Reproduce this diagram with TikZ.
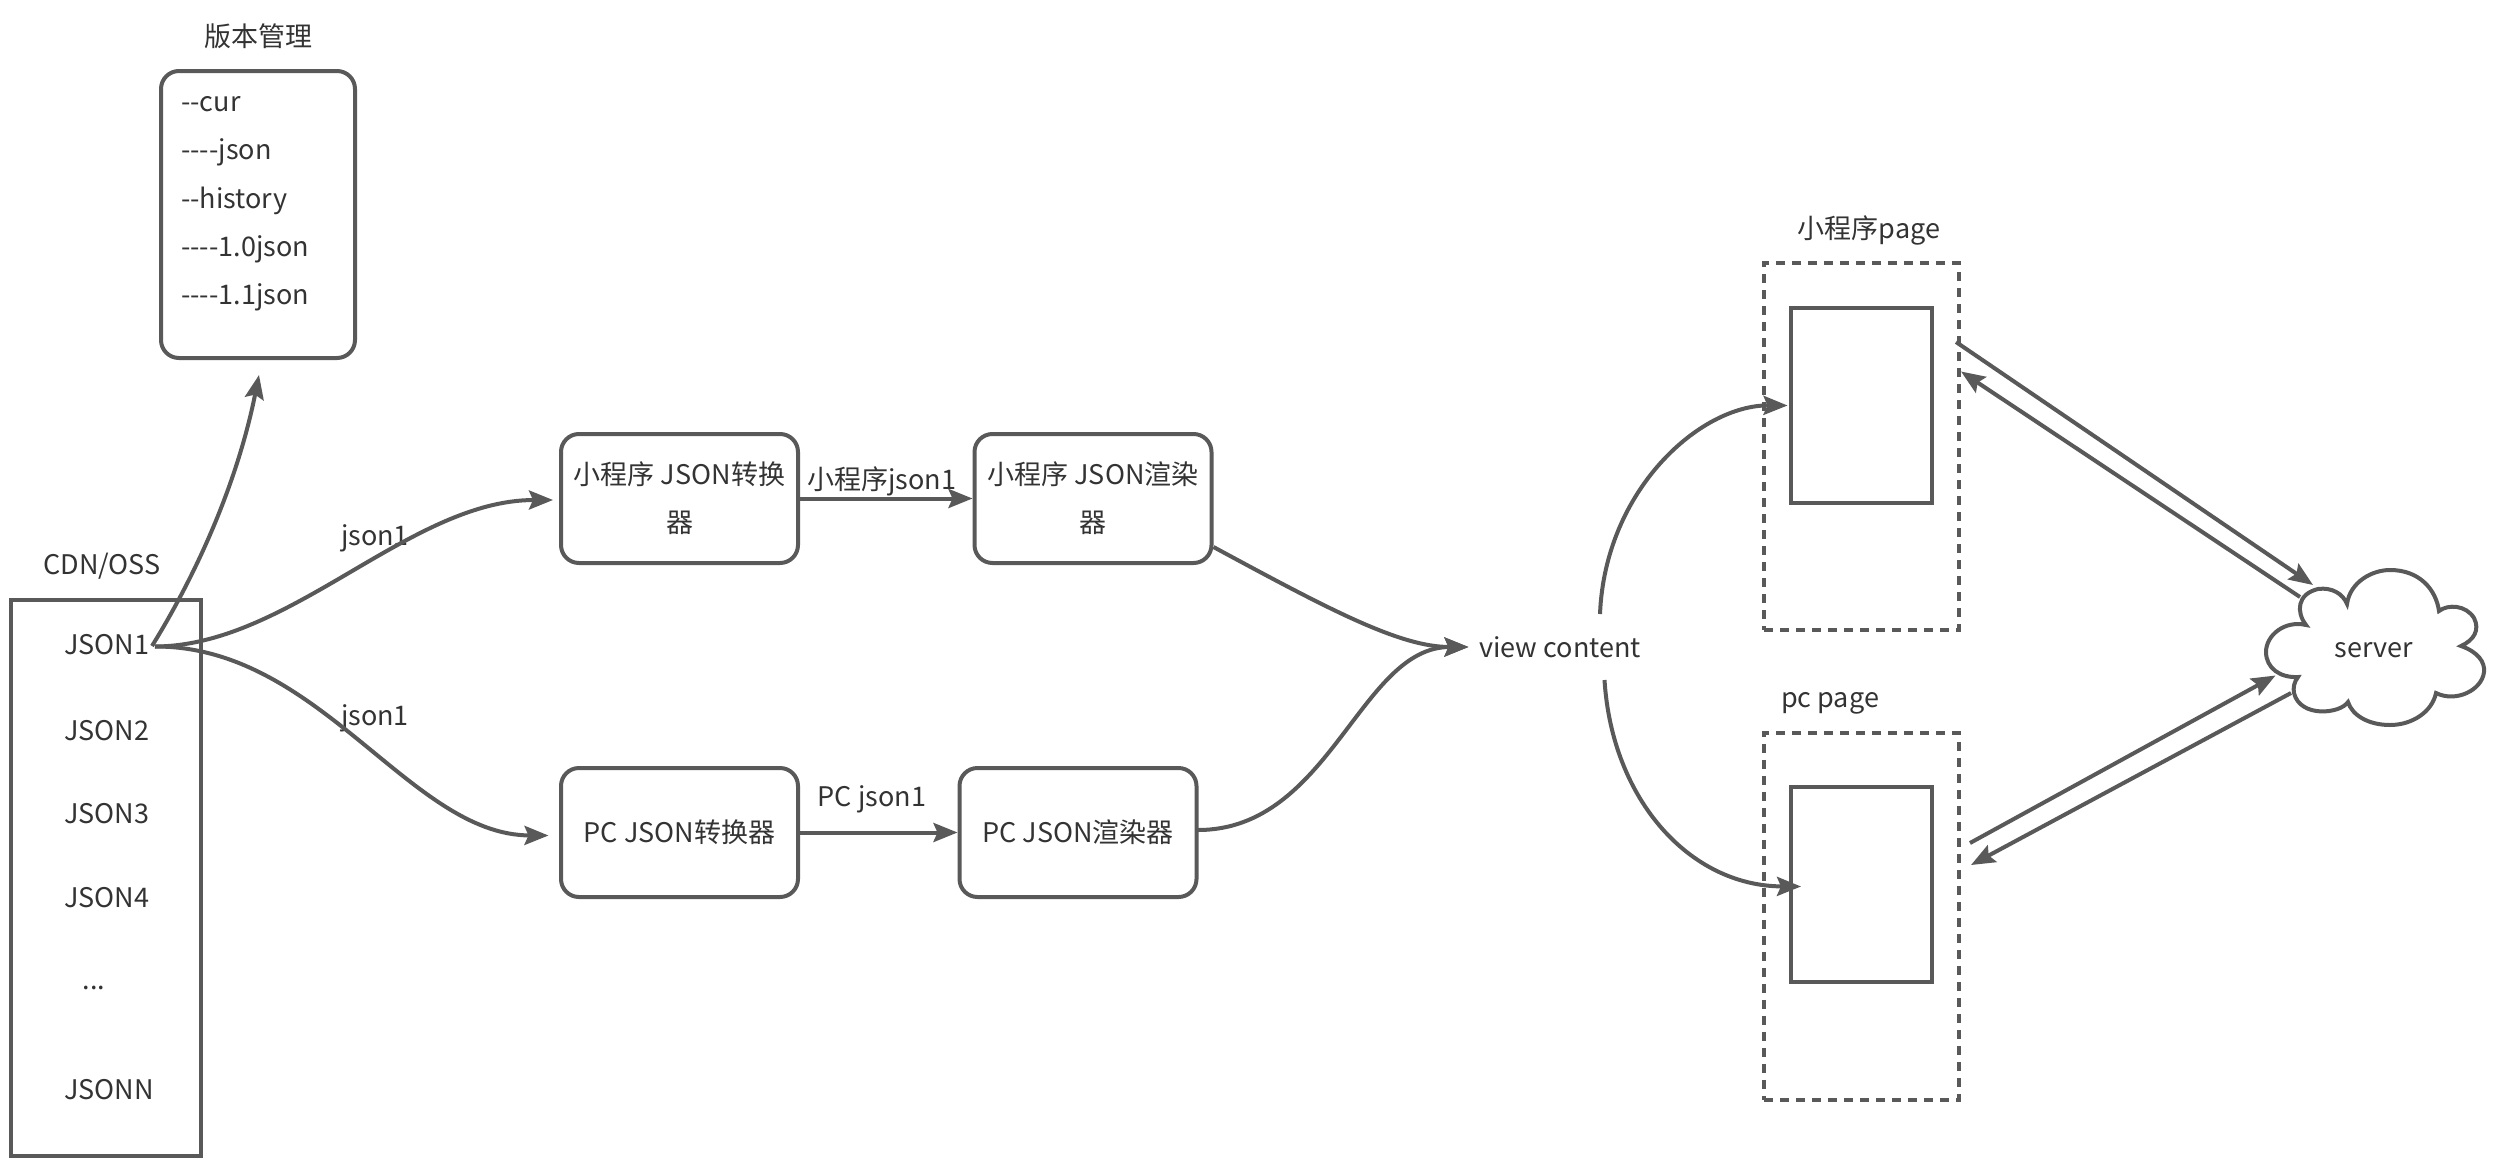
\documentclass[tikz,border=0pt]{standalone}
\usepackage{fontspec}
\setmainfont{Noto Sans CJK SC}
\usetikzlibrary{arrows.meta}
\definecolor{linegray}{HTML}{595959}
\definecolor{textgray}{HTML}{333333}
\tikzset{>={Stealth[length=24pt,width=19pt,inset=4pt]}}
\tikzset{
  txt/.style={text=textgray,inner sep=0pt,font=\fontsize{27}{48}\selectfont,align=center},
  line/.style={draw=linegray,line width=4pt},
  link/.style={line,->},
  roundbox/.style={line,txt,rounded corners=18pt,minimum width=237pt,minimum height=129pt},
  pagebox/.style={draw=linegray,line width=4pt,dash pattern=on 9pt off 7pt,minimum width=195pt,minimum height=367pt,inner sep=0pt},
  innerbox/.style={line,minimum width=141pt,minimum height=195pt,inner sep=0pt},
}

\begin{document}
\begin{tikzpicture}[x=1pt,y=-1pt]
    \useasboundingbox (0,0) rectangle (2498,1162);

    % version store
    \node[txt] at (258, 36) (vertitle) {版本管理};
    \node[line,rounded corners=18pt,minimum width=194pt,minimum height=287pt,inner sep=0pt] at (258, 214.5) (ver) {};
    \node[txt,anchor=west] at (181, 104) (ver1) {-{}-cur};
    \node[txt,anchor=west] at (181, 152) (ver2) {-{}-{}-{}-json};
    \node[txt,anchor=west] at (181, 201) (ver3) {-{}-history};
    \node[txt,anchor=west] at (181, 249) (ver4) {-{}-{}-{}-1.0json};
    \node[txt,anchor=west] at (181, 297) (ver5) {-{}-{}-{}-1.1json};

    % json list
    \node[txt] at (102, 566) (cdntitle) {CDN/OSS};
    \node[line,minimum width=190pt,minimum height=556pt,inner sep=0pt] at (106, 877.5) (cdn) {};
    \node[txt,anchor=west] at (64, 645) (jsona) {JSON1};
    \node[txt,anchor=west] at (64, 731) (jsonb) {JSON2};
    \node[txt,anchor=west] at (64, 814) (jsonc) {JSON3};
    \node[txt,anchor=west] at (64, 898) (jsond) {JSON4};
    \node[txt] at (94, 988) (jsone) {...};
    \node[txt,anchor=west] at (64, 1090) (jsonn) {JSONN};

    % converters and renderers
    \node[roundbox] at (679.5, 498.5) (conva) {小程序 JSON转换\\器};
    \node[roundbox] at (1093, 498.5) (renda) {小程序 JSON渲染\\器};
    \node[roundbox] at (679.5, 832.5) (convb) {PC JSON转换器};
    \node[roundbox] at (1078, 832.5) (rendb) {PC JSON渲染器};
    \node[txt] at (882, 481) (laba) {小程序json1};
    \node[txt] at (872, 799) (labb) {PC json1};
    \node[txt] at (375, 538) (labc) {json1};
    \node[txt] at (375, 718) (labd) {json1};
    \node[txt] at (1560, 647) (view) {view content};

    % pages
    \node[txt] at (1869, 230) (pagetitlea) {小程序page};
    \node[pagebox] at (1861.5, 446.5) (pagea) {};
    \node[innerbox] at (1861.5, 405.5) (innera) {};
    \node[txt] at (1830, 703) (pagetitleb) {pc page};
    \node[pagebox] at (1861.5, 916) (pageb) {};
    \node[innerbox] at (1861.5, 884) (innerb) {};

    % server cloud
    \draw[line] (2306,625) .. controls (2296,612) and (2297,594) .. (2318,589)
      .. controls (2332,587) and (2343,594) .. (2347,604)
      .. controls (2350,582) and (2372,570) .. (2390,570)
      .. controls (2420,570) and (2436,590) .. (2439,611)
      .. controls (2448,604) and (2466,605) .. (2474,618)
      .. controls (2480,630) and (2474,640) .. (2461,646)
      .. controls (2478,652) and (2485,662) .. (2484,672)
      .. controls (2482,690) and (2456,703) .. (2436,693)
      .. controls (2432,712) and (2412,725) .. (2390,725)
      .. controls (2368,725) and (2352,715) .. (2348,702)
      .. controls (2340,714) and (2300,718) .. (2294,693)
      .. controls (2293,688) and (2294,682) .. (2298,677)
      .. controls (2280,678) and (2266,668) .. (2266,652)
      .. controls (2266,635) and (2285,620) .. (2306,625) -- cycle;
    \node[txt] at (2374, 650) (server) {server};

    % free ends
    \coordinate (out) at (155, 646.5);
    \coordinate (outup) at (152, 646);
    \coordinate (verin) at (259, 375);
    \coordinate (convain) at (553, 500);
    \coordinate (convbin) at (548.5, 835.5);
    \coordinate (rendaout) at (1213.5, 547);
    \coordinate (rendbout) at (1198, 830);
    \coordinate (viewin) at (1468.5, 647);
    \coordinate (viewa) at (1600, 614);
    \coordinate (viewb) at (1604.5, 680);
    \coordinate (pageain) at (1787.5, 405.5);
    \coordinate (pagebin) at (1801, 886.5);
    \coordinate (aout) at (1956, 342);
    \coordinate (ain) at (1961, 371.5);
    \coordinate (srvain) at (2313, 585);
    \coordinate (srvaout) at (2300, 597);
    \coordinate (bout) at (1970, 843);
    \coordinate (bin) at (1971, 865);
    \coordinate (srvbin) at (2275.5, 675.5);
    \coordinate (srvbout) at (2291, 693);

    % connectors
    \draw[link] (outup) .. controls (205,560) and (240,470) .. (verin);
    \draw[link] (out) .. controls (290,646) and (410,500) .. (convain);
    \draw[link] (out) .. controls (320,646) and (410,835) .. (convbin);
    \draw[link] (conva) -- (renda);
    \draw[link] (convb) -- (rendb);
    \draw[link] (rendaout) .. controls (1330,610) and (1400,647) .. (viewin);
    \draw[link] (rendbout) .. controls (1330,830) and (1360,647) .. (viewin);
    \draw[link] (viewa) .. controls (1605,490) and (1700,405) .. (pageain);
    \draw[link] (viewb) .. controls (1612,800) and (1690,886) .. (pagebin);
    \draw[link] (aout) -- (srvain);
    \draw[link] (srvaout) -- (ain);
    \draw[link] (bout) -- (srvbin);
    \draw[link] (srvbout) -- (bin);
\end{tikzpicture}
\end{document}
